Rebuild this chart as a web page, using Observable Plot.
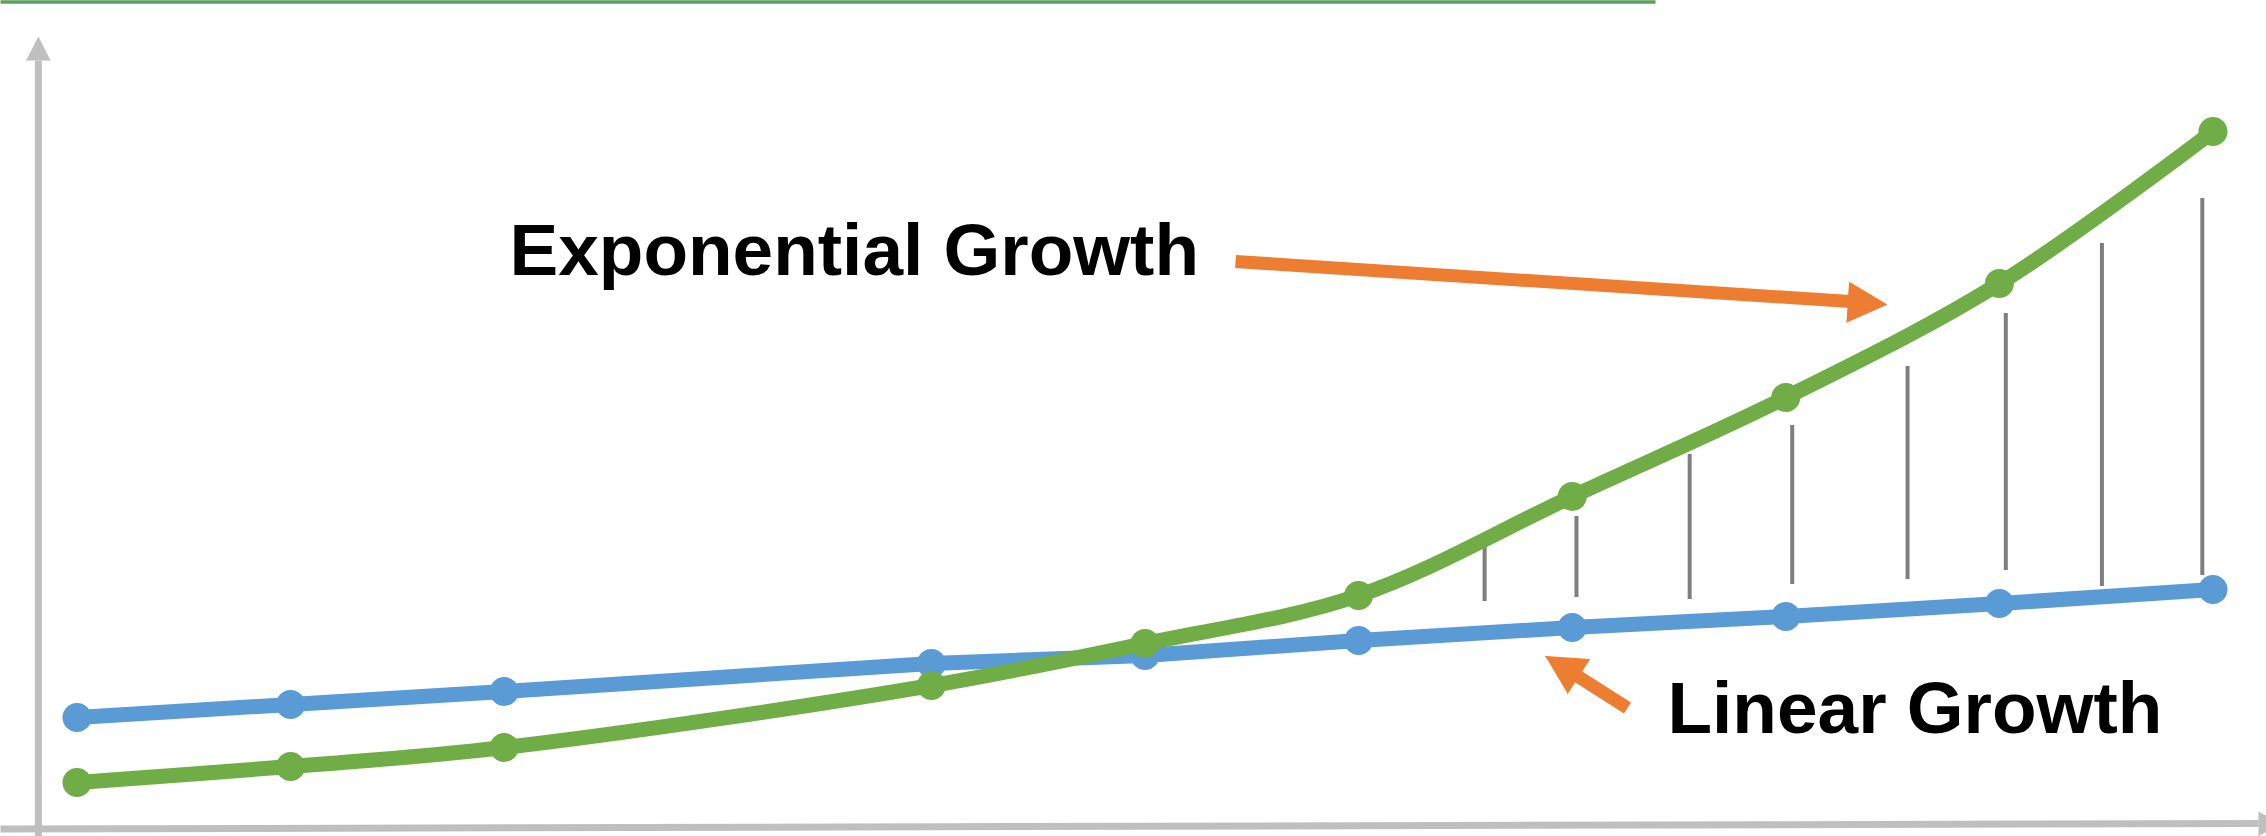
<!DOCTYPE html>
<html><head><meta charset="utf-8">
<script src="https://cdn.jsdelivr.net/npm/d3@7"></script>
<script src="https://cdn.jsdelivr.net/npm/@observablehq/plot@0.6"></script>
<style>
html,body{margin:0;padding:0;background:#fff;overflow:hidden;}
#chart svg{display:block;overflow:hidden;}
</style></head><body><div id="chart"></div>
<script>
// x positions (time steps) and series values
const xIndex = [0, 1, 2, 4, 5, 6, 7, 8, 9, 10];
const linearValues = [111, 124, 137, 165, 173, 188, 201, 212, 225, 239];
const exponentialValues = [46, 62, 81, 143, 185, 233, 332, 431, 545, 697];

// gap markers between the two curves
const gapX = [6.59, 7.02, 7.55, 8.03, 8.57, 9.03, 9.48, 9.95];
const gapTop = [288, 312, 374, 403, 462, 515, 585, 630];
const gapBottom = [227, 231, 229, 244, 249, 258, 242, 253];

// annotation labels
const labels = ["Exponential Growth", "Linear Growth"];
const labelX = [2.025, 7.446];
const labelY = [554, 96];

// annotation arrows (shaft start/end, head triangle)
const arrowShaftX1 = [5.424, 7.259];
const arrowShaftY1 = [567, 120.5];
const arrowShaftX2 = [8.30, 7.02];
const arrowShaftY2 = [527, 153];
const arrowHeadX = [[8.296, 8.472, 8.284], [6.875, 7.081, 6.978]];
const arrowHeadY = [[546.3, 524, 506.3], [172, 169, 135]];

// axes (drawn as arrows)
const axisX1 = [-0.181, -0.358];
const axisY1 = [-8, -0.5];
const axisX2 = [-0.181, 10.213];
const axisY2 = [768, 5];
const axisHeadX = [[-0.236, -0.181, -0.126], [10.213, 10.321, 10.213]];
const axisHeadY = [[768, 791, 768], [16.3, 5, -7]];

// top decorative rule
const topRuleX = [-0.358, 7.39];
const topRuleY = 826.5;

const BLUE = "#5b9bd5", GREEN = "#70ad47", ORANGE = "#ed7d31", AXIS = "#bfbfbf", GAP = "#7f7f7f";

const linear = xIndex.map((x, i) => ({x, y: linearValues[i]}));
const expo = xIndex.map((x, i) => ({x, y: exponentialValues[i]}));
const gaps = gapX.map((x, i) => ({x, y1: gapBottom[i], y2: gapTop[i]}));
const labelData = labels.map((t, i) => ({t, x: labelX[i], y: labelY[i]}));
const shafts = arrowShaftX1.map((x1, i) => ({x1, y1: arrowShaftY1[i], x2: arrowShaftX2[i], y2: arrowShaftY2[i]}));
const heads = arrowHeadX.flatMap((xs, k) => xs.map((x, j) => ({id: k, x, y: arrowHeadY[k][j]})));
const axes = axisX1.map((x1, i) => ({x1, y1: axisY1[i], x2: axisX2[i], y2: axisY2[i]}));
const axisHeads = axisHeadX.flatMap((xs, k) => xs.map((x, j) => ({id: k, x, y: axisHeadY[k][j]})));
const topRule = [{x1: topRuleX[0], x2: topRuleX[1], y: topRuleY}];

const plot = Plot.plot({
  width: 2266,
  height: 836,
  marginTop: 0, marginRight: 0, marginBottom: 0, marginLeft: 0,
  x: {type: "linear", domain: [0, 10], range: [76.5, 2212.5], axis: null},
  y: {type: "linear", domain: [0, 828], range: [828, 0], axis: null},
  marks: [
    Plot.link(topRule, {x1: "x1", x2: "x2", y1: "y", y2: "y", stroke: "#5f9f5c", strokeWidth: 3.5}),
    Plot.link(axes, {x1: "x1", y1: "y1", x2: "x2", y2: "y2", stroke: AXIS, strokeWidth: 7, strokeLinecap: "butt"}),
    Plot.line(axisHeads, {x: "x", y: "y", z: "id", fill: AXIS, stroke: AXIS, strokeWidth: 1}),
    Plot.ruleX(gaps, {x: "x", y1: "y1", y2: "y2", stroke: GAP, strokeWidth: 4}),
    Plot.line(linear, {x: "x", y: "y", stroke: BLUE, strokeWidth: 15}),
    Plot.dot(linear, {x: "x", y: "y", r: 14.5, fill: BLUE, stroke: "none"}),
    Plot.line(expo, {x: "x", y: "y", stroke: GREEN, strokeWidth: 15, curve: "catmull-rom"}),
    Plot.dot(expo, {x: "x", y: "y", r: 14.5, fill: GREEN, stroke: "none"}),
    Plot.link(shafts, {x1: "x1", y1: "y1", x2: "x2", y2: "y2", stroke: ORANGE, strokeWidth: 13, strokeLinecap: "butt"}),
    Plot.line(heads, {x: "x", y: "y", z: "id", fill: ORANGE, stroke: ORANGE, strokeWidth: 1}),
    Plot.text(labelData, {x: "x", y: "y", text: "t", textAnchor: "start", lineAnchor: "bottom",
      fontSize: 73, fontWeight: "bold", fontFamily: "'Liberation Sans', Arial, Helvetica, sans-serif", fill: "#000"})
  ]
});
document.getElementById("chart").appendChild(plot);
</script></body></html>
